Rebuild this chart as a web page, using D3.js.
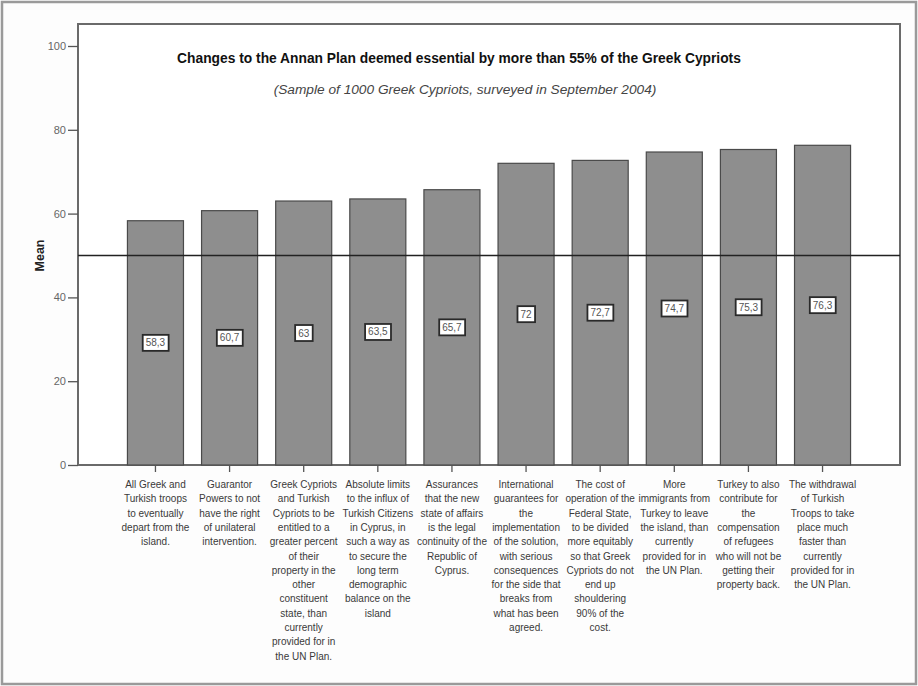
<!DOCTYPE html>
<html>
<head>
<meta charset="utf-8">
<script src="https://cdn.jsdelivr.net/npm/d3@7"></script>
<style>
  html, body { margin: 0; padding: 0; background: #fdfdfd; }
  svg { display: block; font-family: "Liberation Sans", Arial, sans-serif; }
</style>
</head>
<body>
<svg id="chart" width="918" height="686"></svg>
<script>
// Survey means for each proposed change (0-100 scale)
const categories = [
  ["All Greek and", "Turkish troops", "to eventually", "depart from the", "island."],
  ["Guarantor", "Powers to not", "have the right", "of unilateral", "intervention."],
  ["Greek Cypriots", "and Turkish", "Cypriots to be", "entitled to a", "greater percent", "of their", "property in the", "other", "constituent", "state, than", "currently", "provided for in", "the UN Plan."],
  ["Absolute limits", "to the influx of", "Turkish Citizens", "in Cyprus, in", "such a way as", "to secure the", "long term", "demographic", "balance on the", "island"],
  ["Assurances", "that the new", "state of affairs", "is the legal", "continuity of the", "Republic of", "Cyprus."],
  ["International", "guarantees for", "the", "implementation", "of the solution,", "with serious", "consequences", "for the side that", "breaks from", "what has been", "agreed."],
  ["The cost of", "operation of the", "Federal State,", "to be divided", "more equitably", "so that Greek", "Cypriots do not", "end up", "shouldering", "90% of the", "cost."],
  ["More", "immigrants from", "Turkey to leave", "the island, than", "currently", "provided for in", "the UN Plan."],
  ["Turkey to also", "contribute for", "the", "compensation", "of refugees", "who will not be", "getting their", "property back."],
  ["The withdrawal", "of Turkish", "Troops to take", "place much", "faster than", "currently", "provided for in", "the UN Plan."]
];
const means = [58.3, 60.7, 63, 63.5, 65.7, 72, 72.7, 74.7, 75.3, 76.3];
const yTicks = [0, 20, 40, 60, 80, 100];
const referenceLevel = 50;
const titleText = "Changes to the Annan Plan deemed essential by more than 55% of the Greek Cypriots";
const subtitleText = "(Sample of 1000 Greek Cypriots, surveyed in September 2004)";
const yAxisTitle = "Mean";

const svg = d3.select("#chart");
const W = 918, H = 686;
const plot = { left: 78, right: 900, top: 24, bottom: 465 };

// outer border of the figure
svg.append("rect")
  .attr("x", 2).attr("y", 2).attr("width", W - 4).attr("height", H - 4)
  .attr("fill", "#fdfdfd").attr("stroke", "#9a9a9a").attr("stroke-width", 2.5);

const idx = d3.range(means.length);
const x = d3.scaleBand()
  .domain(idx)
  .range([plot.left, plot.right])
  .paddingInner(0.244)
  .paddingOuter(0.667);

const y = d3.scaleLinear()
  .domain([0, 105.25])
  .range([plot.bottom, plot.top]);

// plot frame
svg.append("rect")
  .attr("x", plot.left).attr("y", plot.top)
  .attr("width", plot.right - plot.left).attr("height", plot.bottom - plot.top)
  .attr("fill", "#ffffff").attr("stroke", "#6a6a6a").attr("stroke-width", 2);

// bars
svg.append("g").selectAll("rect")
  .data(idx)
  .join("rect")
  .attr("x", i => x(i))
  .attr("y", i => y(means[i]))
  .attr("width", x.bandwidth())
  .attr("height", i => y(0) - y(means[i]))
  .attr("fill", "#8e8e8e")
  .attr("stroke", "#4a4a4a")
  .attr("stroke-width", 1.2);

// reference line at 50
svg.append("line")
  .attr("x1", plot.left).attr("x2", plot.right)
  .attr("y1", y(referenceLevel)).attr("y2", y(referenceLevel))
  .attr("stroke", "#222").attr("stroke-width", 1.3);

// value labels, boxed, at half bar height
const fmt = v => String(v).replace(".", ",");
const vg = svg.append("g").selectAll("g")
  .data(idx)
  .join("g")
  .attr("transform", i => `translate(${x(i) + x.bandwidth() / 2},${y(means[i] / 2)})`);
vg.each(function (i) {
  const g = d3.select(this);
  const t = g.append("text")
    .attr("text-anchor", "middle")
    .attr("dy", "0.35em")
    .attr("font-size", 10)
    .attr("fill", "#555")
    .text(fmt(means[i]));
  const bb = t.node().getBBox();
  g.insert("rect", "text")
    .attr("x", bb.x - 3).attr("y", -8)
    .attr("width", bb.width + 6).attr("height", 16)
    .attr("fill", "#fff").attr("stroke", "#2a2a2a").attr("stroke-width", 1.8);
});

// y axis
const yAxis = d3.axisLeft(y).tickValues(yTicks).tickSize(10).tickPadding(2);
const yg = svg.append("g").attr("transform", `translate(${plot.left},0)`).call(yAxis);
yg.select(".domain").remove();
yg.selectAll(".tick line").attr("stroke", "#555").attr("stroke-width", 1.3);
yg.selectAll(".tick text")
  .attr("font-size", 11).attr("fill", "#666")
  .attr("font-family", "Liberation Sans, Arial, sans-serif");

// x axis ticks and wrapped category labels
const xAxis = d3.axisBottom(x).tickSize(7).tickFormat("");
const xg = svg.append("g").attr("transform", `translate(0,${plot.bottom})`).call(xAxis);
xg.select(".domain").remove();
xg.selectAll(".tick line").attr("stroke", "#555").attr("stroke-width", 1.3);

const labels = svg.append("g").selectAll("text")
  .data(idx)
  .join("text")
  .attr("x", i => x(i) + x.bandwidth() / 2)
  .attr("y", plot.bottom + 23)
  .attr("text-anchor", "middle")
  .attr("font-size", 10)
  .attr("fill", "#3a3a3a");
labels.each(function (i) {
  const t = d3.select(this);
  categories[i].forEach((line, k) => {
    t.append("tspan")
      .attr("x", x(i) + x.bandwidth() / 2)
      .attr("dy", k === 0 ? 0 : 14.3)
      .text(line);
  });
});

// y axis title
svg.append("text")
  .attr("transform", `translate(44,${y(referenceLevel)}) rotate(-90)`)
  .attr("text-anchor", "middle")
  .attr("font-size", 12.5)
  .attr("font-weight", "bold")
  .attr("fill", "#222")
  .text(yAxisTitle);

// titles
svg.append("text")
  .attr("x", 459).attr("y", 63)
  .attr("text-anchor", "middle")
  .attr("font-size", 13.8)
  .attr("font-weight", "bold")
  .attr("fill", "#111")
  .text(titleText);
svg.append("text")
  .attr("x", 465).attr("y", 94)
  .attr("text-anchor", "middle")
  .attr("font-size", 13.7)
  .attr("font-style", "italic")
  .attr("fill", "#444")
  .text(subtitleText);
</script>
</body>
</html>
